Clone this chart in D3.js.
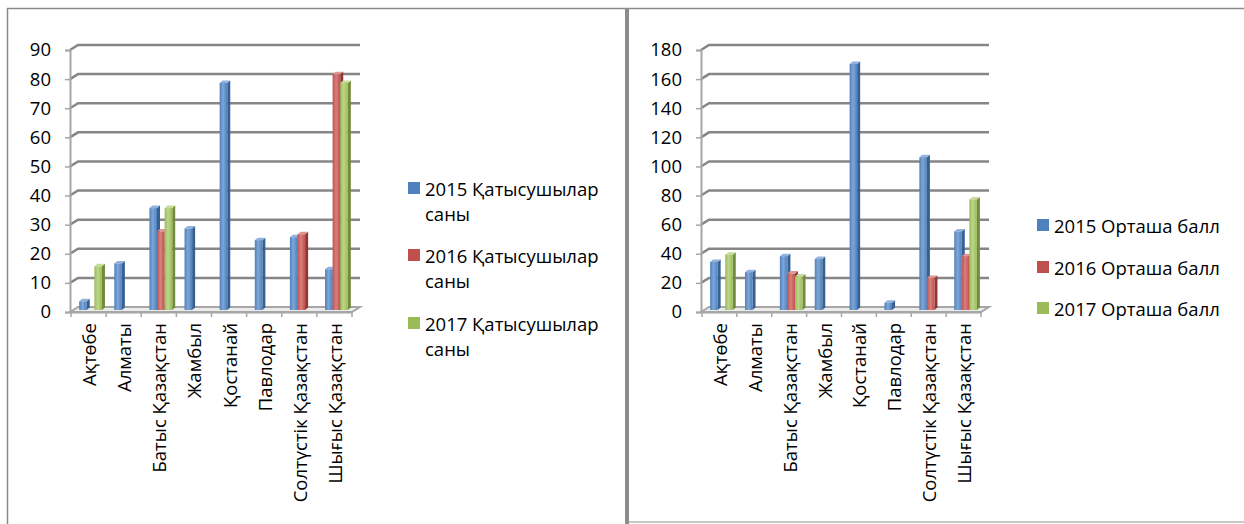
<!DOCTYPE html>
<html>
<head>
<meta charset="utf-8">
<script src="https://cdn.jsdelivr.net/npm/d3@7/dist/d3.min.js"></script>
<style>
  html, body { margin: 0; padding: 0; background: #fff; }
  svg { display: block; font-family: 'Open Sans', 'Noto Sans', sans-serif; }
</style>
</head>
<body>
<svg id="chart" width="1244" height="524"></svg>
<script>
// region names (x axis of both charts)
const categories = ['Ақтөбе', 'Алматы', 'Батыс Қазақстан', 'Жамбыл', 'Қостанай',
  'Павлодар', 'Солтүстік Қазақстан', 'Шығыс Қазақстан'];

// left chart: number of participants
const participantSeries = ['2015 Қатысушылар саны', '2016 Қатысушылар саны', '2017 Қатысушылар саны'];
const participants2015 = [3, 16, 35, 28, 78, 24, 25, 14];
const participants2016 = [0, 0, 27, 0, 0, 0, 26, 81];
const participants2017 = [15, 0, 35, 0, 0, 0, 0, 78];
const participantTicks = [0, 10, 20, 30, 40, 50, 60, 70, 80, 90];

// right chart: average score
const scoreSeries = ['2015 Орташа балл', '2016 Орташа балл', '2017 Орташа балл'];
const score2015 = [33, 26, 37, 35, 169, 5, 105, 54];
const score2016 = [0, 0, 25, 0, 0, 0, 22, 37];
const score2017 = [38, 0, 23, 0, 0, 0, 0, 76];
const scoreTicks = [0, 20, 40, 60, 80, 100, 120, 140, 160, 180];

const COLORS = [
  { front: '#4F81BD', light: '#7fa6d6', side: '#375f8f', top: '#8fb2de' },
  { front: '#C0504D', light: '#d9807d', side: '#8f3634', top: '#e09592' },
  { front: '#9BBB59', light: '#bcd68a', side: '#728c3c', top: '#c6dc98' }
];
const FONT_SIZE = '18.5px';

const svg = d3.select('#chart');

// gradients for the cylinder-ish front faces
const defs = svg.append('defs');
COLORS.forEach((c, i) => {
  const grad = defs.append('linearGradient')
    .attr('id', 'barGrad' + i)
    .attr('x1', '0%').attr('x2', '100%').attr('y1', '0%').attr('y2', '0%');
  grad.append('stop').attr('offset', '0%').attr('stop-color', c.front);
  grad.append('stop').attr('offset', '45%').attr('stop-color', c.light);
  grad.append('stop').attr('offset', '100%').attr('stop-color', c.front);
});

// panel frames
svg.append('line').attr('x1', 7).attr('x2', 1244).attr('y1', 8.5).attr('y2', 8.5)
  .attr('stroke', '#8a8a8a').attr('stroke-width', 1.5);
svg.append('line').attr('x1', 7.5).attr('x2', 7.5).attr('y1', 8).attr('y2', 524)
  .attr('stroke', '#8a8a8a').attr('stroke-width', 1.5);
svg.append('line').attr('x1', 627).attr('x2', 627).attr('y1', 8).attr('y2', 524)
  .attr('stroke', '#8c8c8c').attr('stroke-width', 4);
svg.append('line').attr('x1', 629).attr('x2', 1244).attr('y1', 522).attr('y2', 522)
  .attr('stroke', '#c8c8c8').attr('stroke-width', 2);

function drawChart(opts) {
  const { axisX, x0, x1, ticks, seriesData, seriesNames, legendX, legendRows } = opts;
  const floorY = 312, topY = 50;
  const dx = 8, dy = -5;          // wall depth
  const bdx = 3, bdy = -2.5;       // bar depth
  const off = 2;                   // bars sit a bit behind the front

  const g = svg.append('g');

  const y = d3.scaleLinear()
    .domain([0, d3.max(ticks)])
    .range([floorY, topY]);

  const x = d3.scaleBand()
    .domain(categories)
    .range([x0, x1])
    .paddingInner(0.35)
    .paddingOuter(0.175);

  const xs = d3.scaleBand()
    .domain(d3.range(seriesData.length))
    .range([0, x.bandwidth()]);

  // back wall gridlines with a bent start at the front axis
  g.append('g').selectAll('path')
    .data(ticks.slice(1))
    .join('path')
    .attr('d', t => `M${axisX},${y(t)} L${axisX + dx},${y(t) + dy} L${x1 + dx},${y(t) + dy}`)
    .attr('fill', 'none')
    .attr('stroke', '#868686')
    .attr('stroke-width', 2.5);

  // floor
  g.append('path')
    .attr('d', `M${axisX},${floorY} L${axisX + dx},${floorY + dy} L${x1 + dx},${floorY + dy} L${x1},${floorY} Z`)
    .attr('fill', '#ececec')
    .attr('stroke', '#a6a6a6')
    .attr('stroke-width', 2);

  // front value axis
  const yAxis = g.append('g')
    .attr('transform', `translate(${axisX},0)`)
    .call(d3.axisLeft(y).tickValues(ticks).tickSize(5).tickPadding(14));
  yAxis.select('.domain').attr('stroke', '#a6a6a6').attr('stroke-width', 2);
  yAxis.selectAll('.tick line').attr('stroke', '#a6a6a6').attr('stroke-width', 1.5);
  yAxis.selectAll('.tick text')
    .attr('fill', '#000')
    .style('font-size', FONT_SIZE)
    .style('font-family', "'Open Sans', sans-serif");

  // front category axis
  const xAxis = g.append('g')
    .attr('transform', `translate(0,${floorY})`)
    .call(d3.axisBottom(x).tickSize(0).tickFormat(''));
  xAxis.select('.domain').attr('stroke', '#a6a6a6').attr('stroke-width', 2);
  g.append('g').selectAll('line')
    .data(d3.range(categories.length + 1))
    .join('line')
    .attr('x1', i => x0 + i * x.step())
    .attr('x2', i => x0 + i * x.step())
    .attr('y1', floorY)
    .attr('y2', floorY + 5)
    .attr('stroke', '#a6a6a6')
    .attr('stroke-width', 1.5);

  // bars
  const bars = [];
  seriesData.forEach((vals, s) => {
    vals.forEach((v, i) => {
      if (v > 0) bars.push({ s, cat: categories[i], v });
    });
  });

  const barG = g.append('g').selectAll('g')
    .data(bars)
    .join('g');

  barG.each(function (d) {
    const el = d3.select(this);
    const bx = x(d.cat) + xs(d.s) + off;
    const bw = xs.bandwidth();
    const by = y(d.v) - off;
    const bb = floorY - off;
    const c = COLORS[d.s];
    el.append('path')
      .attr('d', `M${bx + bw},${bb} L${bx + bw + bdx},${bb + bdy} L${bx + bw + bdx},${by + bdy} L${bx + bw},${by} Z`)
      .attr('fill', c.side);
    el.append('path')
      .attr('d', `M${bx},${by} L${bx + bdx},${by + bdy} L${bx + bw + bdx},${by + bdy} L${bx + bw},${by} Z`)
      .attr('fill', c.top);
    el.append('rect')
      .attr('x', bx)
      .attr('y', by)
      .attr('width', bw)
      .attr('height', bb - by)
      .attr('fill', `url(#barGrad${d.s})`);
  });

  // rotated category labels, centred on each category slot
  g.append('g').selectAll('text')
    .data(categories)
    .join('text')
    .attr('transform', c => `translate(${x(c) + x.bandwidth() / 2},323) rotate(-90)`)
    .attr('text-anchor', 'end')
    .attr('dominant-baseline', 'central')
    .style('font-size', FONT_SIZE)
    .text(c => c);

  // legend
  const leg = g.append('g').selectAll('g')
    .data(seriesNames)
    .join('g')
    .attr('transform', (n, i) => `translate(${legendX},${legendRows[i]})`);
  leg.append('rect')
    .attr('x', 0).attr('y', -6)
    .attr('width', 12).attr('height', 12)
    .attr('fill', (n, i) => COLORS[i].front);
  leg.each(function (n) {
    const lines = opts.wrap ? [n.replace(/ саны$/, ''), 'саны'] : [n];
    d3.select(this).selectAll('text')
      .data(lines)
      .join('text')
      .attr('x', 17)
      .attr('y', (t, j) => j * 25)
      .attr('dominant-baseline', 'central')
      .style('font-size', FONT_SIZE)
      .text(t => t);
  });
}

drawChart({
  axisX: 70, x0: 71, x1: 352,
  ticks: participantTicks,
  seriesData: [participants2015, participants2016, participants2017],
  seriesNames: participantSeries,
  legendX: 408,
  legendRows: [188, 255, 323],
  wrap: true
});

drawChart({
  axisX: 701, x0: 702, x1: 981,
  ticks: scoreTicks,
  seriesData: [score2015, score2016, score2017],
  seriesNames: scoreSeries,
  legendX: 1037,
  legendRows: [225, 267, 308],
  wrap: false
});
</script>
</body>
</html>
